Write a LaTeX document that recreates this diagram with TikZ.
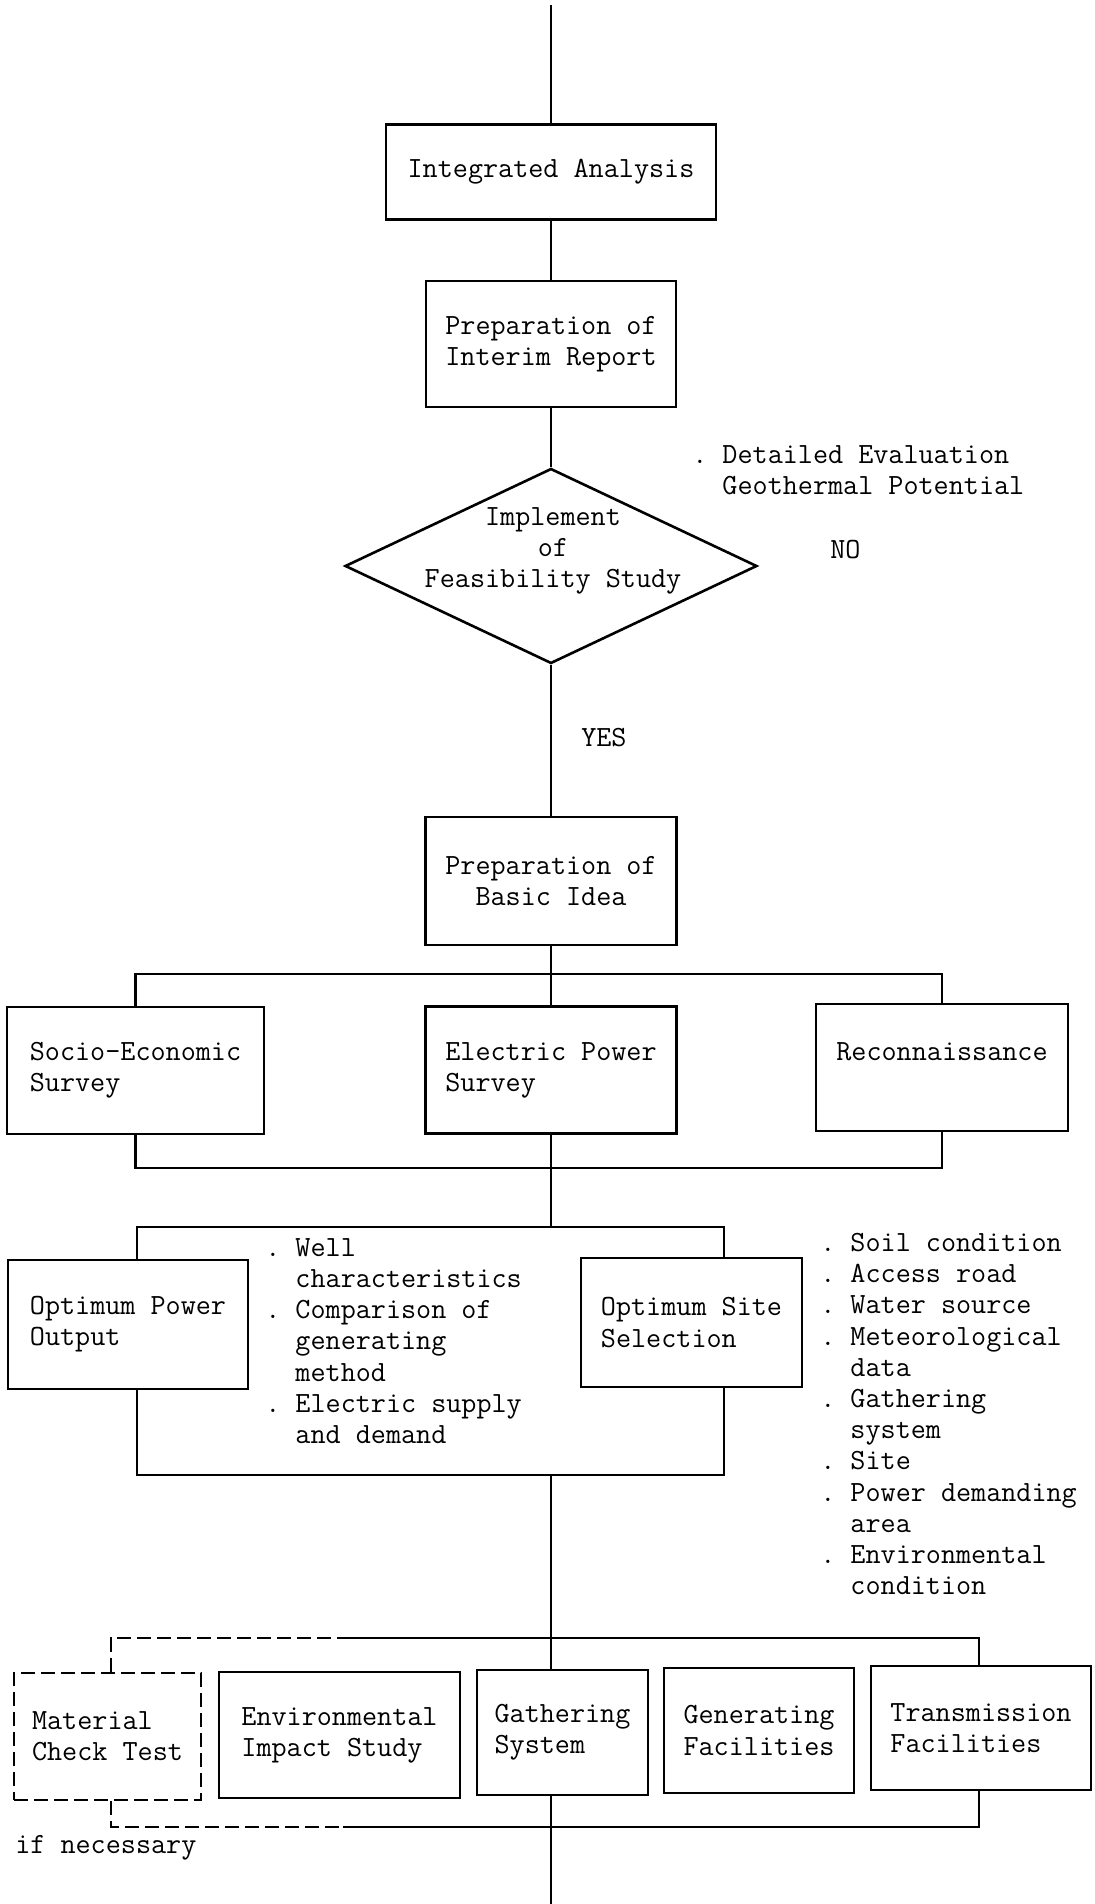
\documentclass[tikz,border=0pt]{standalone}
\usepackage{fontspec}
\usetikzlibrary{shapes.geometric}
\newcommand{\listdot}{.\ }
\newcommand{\listgap}{\phantom{.\ }}
\begin{document}
\begin{tikzpicture}[x=0.5pt,y=-0.5pt,line width=1.3pt,
    font=\ttfamily\fontsize{14.65pt}{15.6pt}\selectfont,
    box/.style={draw, inner sep=0pt, align=left},
    note/.style={inner sep=0pt, align=left, anchor=west},
    dashline/.style={dash pattern=on 7pt off 3pt}]
    \useasboundingbox (0,0) rectangle (1094,1904);
    %Top part
    \coordinate (top) at (551,5);
    \node[box, minimum width=165pt, minimum height=47.5pt] (ia) at (551,172) {Integrated Analysis};
    \node[box, align=center, minimum width=125pt, minimum height=63pt] (ir) at (551,344) {Preparation of\\Interim Report};
    \draw (top) -- (ia);
    \draw (ia) -- (ir);
    %Decision
    \node[diamond, draw, inner sep=0pt, minimum width=206pt, minimum height=97.5pt] (fs) at (551,566) {};
    \node[align=center, inner sep=0pt] (fstext) at (553,551) {Implement\\of\\Feasibility Study};
    \draw (ir) -- (fs);
    \node[note] (eval) at (691,470) {\listdot Detailed Evaluation\\\listgap Geothermal Potential};
    \node[note] (no) at (829,550) {NO};
    \node[note] (yes) at (580,738) {YES};
    %Basic idea and surveys
    \node[box, align=center, minimum width=125.5pt, minimum height=64pt] (bi) at (551,881) {Preparation of\\Basic Idea};
    \draw (fs) -- (bi);
    \node[box, minimum width=128.5pt, minimum height=63.5pt] (se) at (135.5,1070.5) {Socio-Economic\\Survey};
    \node[box, minimum width=125.5pt, minimum height=63.5pt] (ep) at (551,1070) {Electric Power\\Survey};
    \node[box, minimum width=126pt, minimum height=63.5pt] (rc) at (942,1067.5) {Reconnaissance\\\mbox{}};
    \coordinate (b1) at (551,974);
    \coordinate (b2) at (551,1168);
    \draw (bi) -- (b1);
    \draw (se.north) |- (b1) -| (rc.north);
    \draw (b1) -- (ep);
    \draw (se.south) |- (b2) -| (rc.south);
    \draw (ep) -- (b2);
    %Optimum frame
    \coordinate (ft) at (551,1227);
    \coordinate (ftl) at (137,1227);
    \coordinate (ftr) at (724,1227);
    \coordinate (fbl) at (137,1475);
    \coordinate (fbr) at (724,1475);
    \coordinate (fb) at (551,1475);
    \node[box, minimum width=120pt, minimum height=64.5pt] (opo) at (128,1324.5) {Optimum Power\\Output};
    \node[box, minimum width=110.5pt, minimum height=64.5pt] (oss) at (691.5,1322.5) {Optimum Site\\Selection};
    \draw (b2) -- (ft);
    \draw (ftl |- opo.north) -- (ftl) -- (ftr) -- (ftr |- oss.north);
    \draw (fbl |- opo.south) -- (fbl) -- (fbr) -- (fbr |- oss.south);
    \node[note] (plist) at (264,1341) {\listdot Well\\\listgap characteristics\\\listdot Comparison of\\\listgap generating\\\listgap method\\\listdot Electric supply\\\listgap and demand};
    \node[note] (slist) at (819,1414) {\listdot Soil condition\\\listdot Access road\\\listdot Water source\\\listdot Meteorological\\\listgap data\\\listdot Gathering\\\listgap system\\\listdot Site\\\listdot Power demanding\\\listgap area\\\listdot Environmental\\\listgap condition};
    %Facilities
    \node[box, dashline, minimum width=93.5pt, minimum height=63.5pt] (mct) at (107.5,1736.5) {Material\\Check Test};
    \node[box, minimum width=120.5pt, minimum height=63pt] (eis) at (339.5,1735) {Environmental\\Impact Study};
    \node[box, minimum width=85.5pt, minimum height=62.5pt] (gs) at (562.5,1732.5) {Gathering\\System};
    \node[box, minimum width=95pt, minimum height=62.5pt] (gf) at (759,1730.5) {Generating\\Facilities};
    \node[box, minimum width=110pt, minimum height=62pt] (tf) at (981,1728) {Transmission\\Facilities};
    \coordinate (tbl) at (111,1638);
    \coordinate (tbd) at (343,1638);
    \coordinate (tbr) at (979,1638);
    \coordinate (bbl) at (111,1827);
    \coordinate (bbd) at (343,1827);
    \coordinate (bbr) at (979,1827);
    \coordinate (bot) at (551,1904);
    \draw (fb) -- (fb |- gs.north);
    \draw (gs.south -| fb) -- (bot);
    \draw[dashline] (tbl |- mct.north) -- (tbl) -- (tbd);
    \draw (tbd) -- (tbr) -- (tbr |- tf.north);
    \draw[dashline] (bbl |- mct.south) -- (bbl) -- (bbd);
    \draw (bbd) -- (bbr) -- (bbr |- tf.south);
    \node[note] (ifnec) at (14,1848) {if necessary};
\end{tikzpicture}
\end{document}
